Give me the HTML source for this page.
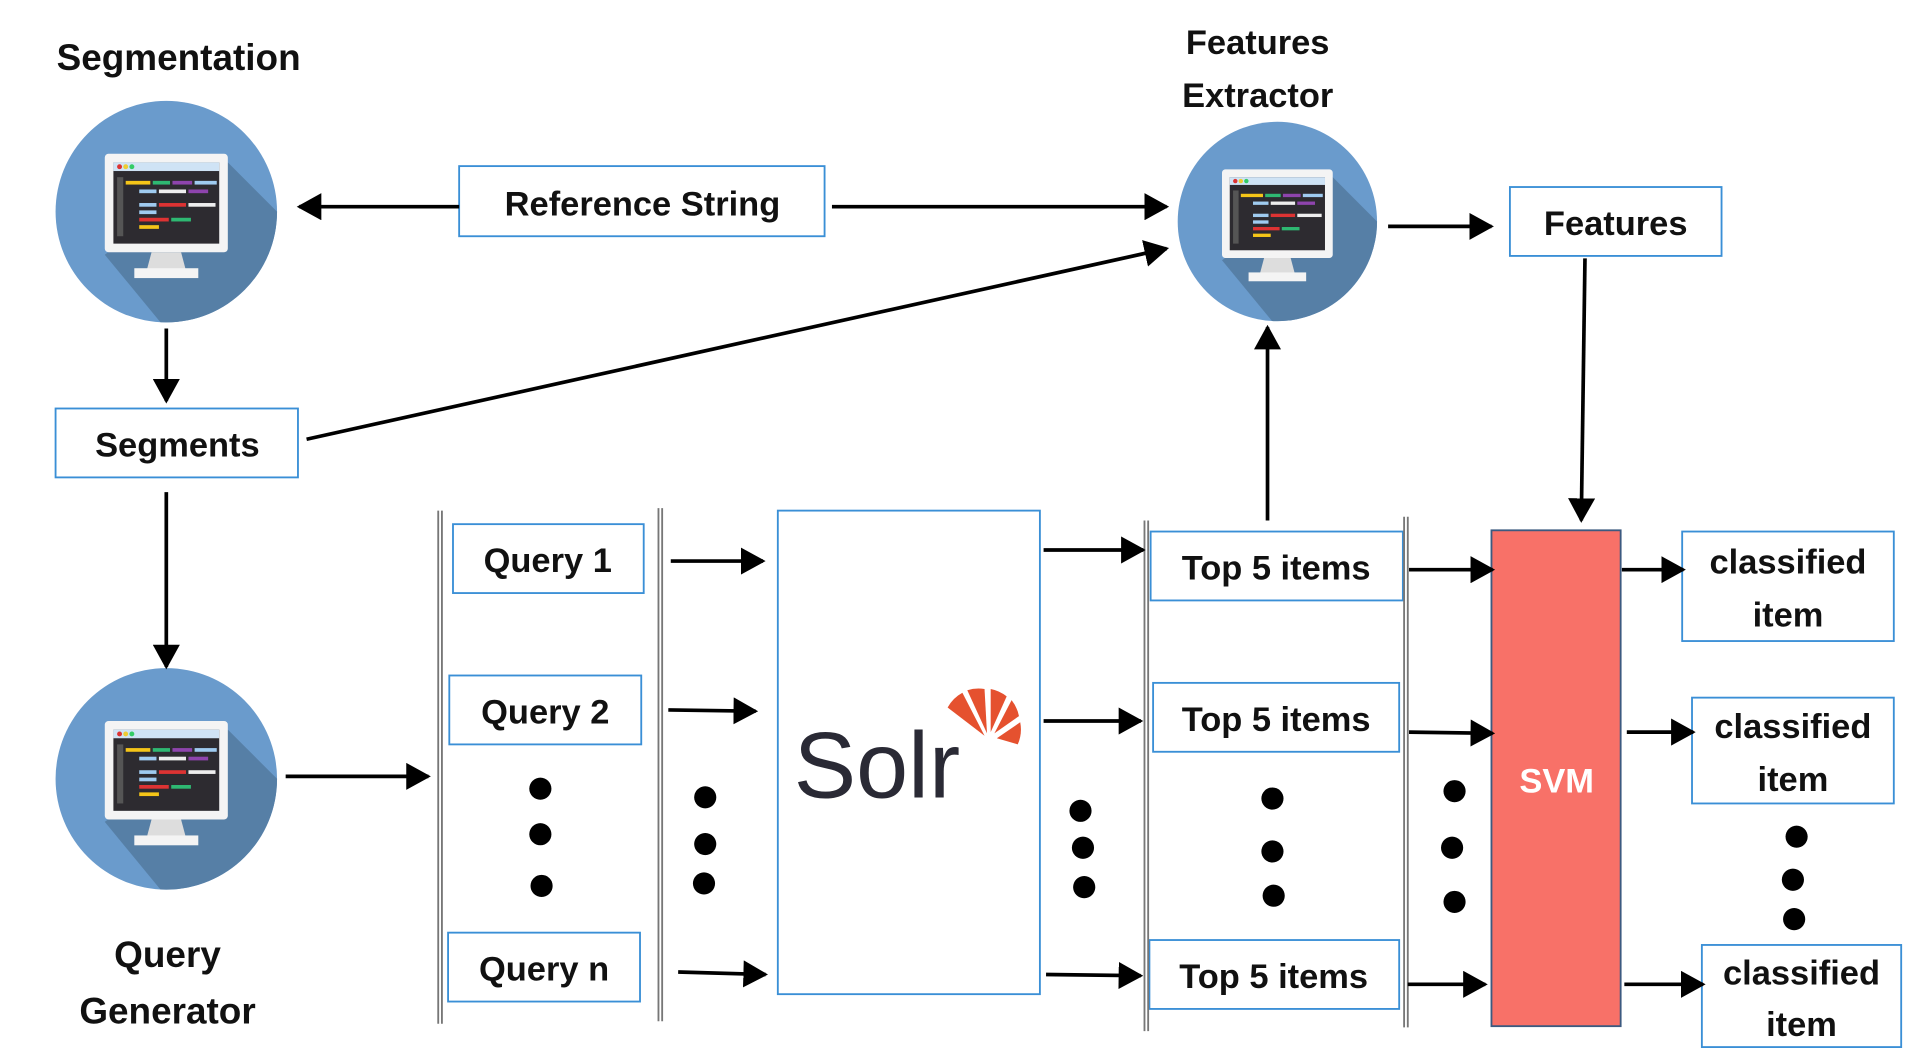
<!DOCTYPE html>
<html><head><meta charset="utf-8"><style>
html,body{margin:0;padding:0;background:#fff}
svg{display:block}
text{font-family:"Liberation Sans",sans-serif;font-weight:bold;fill:#111}
</style></head><body>
<svg width="1910" height="1052" viewBox="0 0 1552 855" xmlns="http://www.w3.org/2000/svg">
<defs>
<clipPath id="cc"><circle cx="0" cy="0" r="90"/></clipPath>
<marker id="ah" markerWidth="20" markerHeight="22" refX="18" refY="11" orient="auto" markerUnits="userSpaceOnUse" viewBox="0 0 20 22"><path d="M0,0 L20,11 L0,22 z" fill="#000"/></marker>
<g id="icon">
<circle r="90" fill="#6a9bcc"/>
<polygon points="50,-40 120,30 120,120 20,120 -50,35" fill="#567fa6" clip-path="url(#cc)"/>
<rect x="-50" y="-47" width="100" height="80" rx="3" fill="#f4f4f4"/>
<rect x="-43" y="-40" width="86" height="66" fill="#2d2b30"/>
<rect x="-43" y="-40" width="86" height="7" fill="#cfe3f5"/>
<circle cx="-38" cy="-36.5" r="2" fill="#d33"/><circle cx="-33" cy="-36.5" r="2" fill="#ec3"/><circle cx="-28" cy="-36.5" r="2" fill="#3c6"/>
<rect x="-33" y="-25" width="20" height="3" fill="#f5c518"/><rect x="-11" y="-25" width="14" height="3" fill="#2eb872"/><rect x="5" y="-25" width="16" height="3" fill="#8e44ad"/><rect x="23" y="-25" width="18" height="3" fill="#9fcbf0"/>
<rect x="-22" y="-18" width="14" height="3" fill="#9fcbf0"/><rect x="-6" y="-18" width="22" height="3" fill="#eee"/><rect x="18" y="-18" width="16" height="3" fill="#8e44ad"/>
<rect x="-22" y="-7" width="14" height="3" fill="#9fcbf0"/><rect x="-6" y="-7" width="22" height="3" fill="#d33"/><rect x="18" y="-7" width="22" height="3" fill="#eee"/>
<rect x="-22" y="-1" width="14" height="3" fill="#9fcbf0"/><rect x="-22" y="5" width="24" height="3" fill="#d33"/><rect x="4" y="5" width="16" height="3" fill="#2eb872"/>
<rect x="-22" y="11" width="16" height="3" fill="#f5c518"/>
<rect x="-40" y="-28" width="5" height="48" fill="#555"/>
<path d="M-12,33 L12,33 L16,48 L-16,48z" fill="#ddd"/>
<rect x="-26" y="46" width="52" height="8" fill="#f4f4f4"/>
</g>
</defs>
<rect width="1552" height="855" fill="#fff"/>

<text x="145" y="57" font-size="30" text-anchor="middle">Segmentation</text>
<use href="#icon" x="135" y="172"/>
<use href="#icon" x="135" y="633"/>
<g transform="translate(1038,180) scale(0.9)"><use href="#icon"/></g>
<text x="1022" y="44" font-size="28" text-anchor="middle">Features</text>
<text x="1022" y="87" font-size="28" text-anchor="middle">Extractor</text>
<text x="136" y="786" font-size="30" text-anchor="middle">Query</text>
<text x="136" y="832" font-size="30" text-anchor="middle">Generator</text>

<g fill="#fff" stroke="#3a8fd6" stroke-width="1.5">
<rect x="373" y="135" width="297" height="57"/>
<rect x="45" y="332" width="197" height="56"/>
<rect x="1227" y="152" width="172" height="56"/>
<rect x="368" y="426" width="155" height="56"/>
<rect x="365" y="549" width="156" height="56"/>
<rect x="364" y="758" width="156" height="56"/>
<rect x="632" y="415" width="213" height="393"/>
<rect x="935" y="432" width="205" height="56"/>
<rect x="937" y="555" width="200" height="56"/>
<rect x="934" y="764" width="203" height="56"/>
<rect x="1367" y="432" width="172" height="89"/>
<rect x="1375" y="567" width="164" height="86"/>
<rect x="1383" y="768" width="162" height="83"/>
</g>
<rect x="1212" y="431" width="105" height="403" fill="#f87168" stroke="#3c5a80" stroke-width="1.5"/>
<text x="1265" y="644" font-size="28" text-anchor="middle" style="fill:#fff">SVM</text>

<g font-size="28" text-anchor="middle">
<text x="522" y="175">Reference String</text>
<text x="144" y="371">Segments</text>
<text x="1313" y="191">Features</text>
<text x="445" y="465">Query 1</text>
<text x="443" y="588">Query 2</text>
<text x="442" y="797">Query n</text>
<text x="1037" y="471">Top 5 items</text>
<text x="1037" y="594">Top 5 items</text>
<text x="1035" y="803">Top 5 items</text>
<text x="1453" y="466">classified</text><text x="1453" y="509">item</text>
<text x="1457" y="600">classified</text><text x="1457" y="643">item</text>
<text x="1464" y="800">classified</text><text x="1464" y="842">item</text>
</g>

<text x="645" y="648" font-size="76" style="font-weight:normal;fill:#2a2a35">Solr</text>
<g fill="#e5512f">
<path d="M800,598 L770,575 A30,30 0 0 1 782,563 Z"/>
<path d="M802,596 L786,561 A30,30 0 0 1 800,560 Z"/>
<path d="M805,595 L805,560 A30,30 0 0 1 818,566 Z"/>
<path d="M808,596 L822,569 A30,30 0 0 1 828,582 Z"/>
<path d="M810,600 L829,587 A30,30 0 0 1 827,605 Z"/>
</g>

<g stroke="#777" stroke-width="1.5">
<line x1="356" y1="415" x2="356" y2="832"/><line x1="359" y1="415" x2="359" y2="832"/>
<line x1="535" y1="413" x2="535" y2="830"/><line x1="538" y1="413" x2="538" y2="830"/>
<line x1="930" y1="423" x2="930" y2="838"/><line x1="933" y1="423" x2="933" y2="838"/>
<line x1="1141" y1="420" x2="1141" y2="835"/><line x1="1144" y1="420" x2="1144" y2="835"/>
</g>

<g stroke="#000" stroke-width="3" fill="none" marker-end="url(#ah)">
<line x1="373" y1="168" x2="243" y2="168"/>
<line x1="676" y1="168" x2="948" y2="168"/>
<line x1="249" y1="357" x2="948" y2="202"/>
<line x1="1128" y1="184" x2="1212" y2="184"/>
<line x1="1288" y1="210" x2="1285" y2="423"/>
<line x1="135" y1="267" x2="135" y2="326"/>
<line x1="135" y1="400" x2="135" y2="542"/>
<line x1="232" y1="631" x2="348" y2="631"/>
<line x1="1030" y1="423" x2="1030" y2="266"/>
<line x1="545" y1="456" x2="620" y2="456"/>
<line x1="543" y1="577" x2="614" y2="578"/>
<line x1="551" y1="790" x2="622" y2="792"/>
<line x1="848" y1="447" x2="929" y2="447"/>
<line x1="848" y1="586" x2="927" y2="586"/>
<line x1="850" y1="792" x2="927" y2="793"/>
<line x1="1145" y1="463" x2="1213" y2="463"/>
<line x1="1145" y1="595" x2="1213" y2="596"/>
<line x1="1144" y1="800" x2="1207" y2="800"/>
<line x1="1318" y1="463" x2="1368" y2="463"/>
<line x1="1322" y1="595" x2="1376" y2="595"/>
<line x1="1320" y1="800" x2="1384" y2="800"/>
</g>

<g fill="#000">
<circle cx="439" cy="641" r="9"/><circle cx="439" cy="678" r="9"/><circle cx="440" cy="720" r="9"/>
<circle cx="573" cy="648" r="9"/><circle cx="573" cy="686" r="9"/><circle cx="572" cy="718" r="9"/>
<circle cx="878" cy="659" r="9"/><circle cx="880" cy="689" r="9"/><circle cx="881" cy="721" r="9"/>
<circle cx="1034" cy="649" r="9"/><circle cx="1034" cy="692" r="9"/><circle cx="1035" cy="728" r="9"/>
<circle cx="1182" cy="643" r="9"/><circle cx="1180" cy="689" r="9"/><circle cx="1182" cy="733" r="9"/>
<circle cx="1460" cy="680" r="9"/><circle cx="1457" cy="715" r="9"/><circle cx="1458" cy="747" r="9"/>
</g>
</svg>
</body></html>
